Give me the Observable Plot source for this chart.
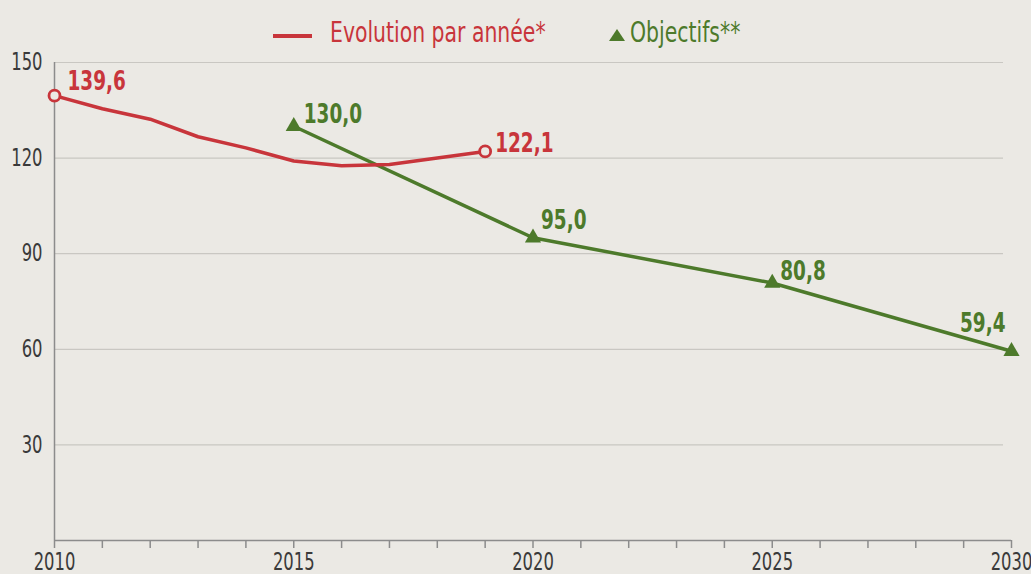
<!DOCTYPE html>
<html>
<head>
<meta charset="utf-8">
<script src="https://cdn.jsdelivr.net/npm/d3@7"></script>
<script src="https://cdn.jsdelivr.net/npm/@observablehq/plot@0.6"></script>
<style>
  html, body { margin: 0; padding: 0; background: #ebe9e4; width: 1031px; height: 574px; overflow: hidden; }
  body { font-family: "DejaVu Sans Condensed", "Liberation Sans Narrow", "Roboto", sans-serif; }
  #legend { position: relative; height: 50px; width: 1031px; }
  #legend .item { position: absolute; top: 13px; font-size: 28px; line-height: 40px; height: 40px; white-space: nowrap; }
  #legend .txt { display: inline-block; transform: scaleX(0.81); transform-origin: 0 50%; vertical-align: top; }
  #legend .sym { position: absolute; }
  #chart svg { display: block; }
</style>
</head>
<body>
<div id="legend"></div>
<div id="chart"></div>
<script>
// ---- data ----
const years = [2010, 2011, 2012, 2013, 2014, 2015, 2016, 2017, 2018, 2019];
const evolution = [139.6, 135.5, 132.2, 126.7, 123.2, 119.1, 117.6, 118.0, 120.0, 122.1];
const objYears = [2015, 2020, 2025, 2030];
const objectifs = [130.0, 95.0, 80.8, 59.4];
const yTicks = [30, 60, 90, 120, 150];
const xTickLabels = [2010, 2015, 2020, 2025, 2030];
const seriesNames = ["Evolution par année*", "Objectifs**"];

const RED = "#c8353b";
const GREEN = "#4d7a2b";
const BG = "#ebe9e4";
const FONT = '"DejaVu Sans Condensed", "Liberation Sans Narrow", sans-serif';

const evo = years.map((y, i) => ({year: y, value: evolution[i]}));
const obj = objYears.map((y, i) => ({year: y, value: objectifs[i]}));
const fmt = v => d3.format(".1f")(v).replace(".", ",");

const evoEnds = [evo[0], evo[evo.length - 1]];

const labelStyle = {fontSize: 27, fontWeight: "bold", textAnchor: "start", text: d => fmt(d.value), x: "year", y: "value"};

const plot = Plot.plot({
  width: 1031,
  height: 524,
  marginLeft: 54,
  marginRight: 20,
  marginTop: 12,
  marginBottom: 34,
  style: {background: BG, fontFamily: FONT, overflow: "visible"},
  x: {domain: [2010, 2030]},
  y: {domain: [0, 150]},
  marks: [
    Plot.ruleY(yTicks, {stroke: "#c9c7c2", strokeWidth: 1.2, insetRight: 8}),
    Plot.ruleX([2010], {y1: 0, y2: 150, stroke: "#8c8c8c", strokeWidth: 1.5}),
    Plot.ruleY([0], {stroke: "#8c8c8c", strokeWidth: 1.5}),
    Plot.axisX({
      ticks: d3.range(2010, 2031),
      tickSize: 8,
      tickPadding: 4,
      stroke: "#8c8c8c",
      strokeWidth: 1.5,
      fontSize: 24,
      fill: "#3a3a3a",
      tickFormat: d => xTickLabels.includes(d) ? String(d) : "",
      label: null
    }),
    Plot.axisY({
      ticks: yTicks,
      tickSize: 0,
      tickPadding: 12,
      fontSize: 24,
      fill: "#3a3a3a",
      label: null
    }),
    Plot.line(obj, {x: "year", y: "value", stroke: GREEN, strokeWidth: 3.5}),
    Plot.dot(obj, {x: "year", y: "value", symbol: "triangle", r: 6, fill: GREEN, stroke: null}),
    Plot.line(evo, {x: "year", y: "value", stroke: RED, strokeWidth: 3.5, curve: "linear"}),
    Plot.dot(evoEnds, {x: "year", y: "value", r: 5.5, fill: BG, stroke: RED, strokeWidth: 2.8}),
    // value labels
    Plot.text([evo[0]], {...labelStyle, fill: RED, dx: 13, dy: -14}),
    Plot.text([evo[evo.length - 1]], {...labelStyle, fill: RED, dx: 10, dy: -8}),
    Plot.text([obj[0]], {...labelStyle, fill: GREEN, dx: 10, dy: -12}),
    Plot.text([obj[1]], {...labelStyle, fill: GREEN, dx: 8, dy: -17}),
    Plot.text([obj[2]], {...labelStyle, fill: GREEN, dx: 8, dy: -12}),
    Plot.text([obj[3]], {...labelStyle, fill: GREEN, textAnchor: "end", dx: -6, dy: -28})
  ]
});
// condense SVG texts horizontally about their anchor to mimic a condensed typeface
plot.querySelectorAll("text").forEach(t => {
  const x = +t.getAttribute("x") || 0, y = +t.getAttribute("y") || 0;
  const tr = t.getAttribute("transform") || "";
  t.setAttribute("transform", `${tr} translate(${x},${y}) scale(0.76,1) translate(${-x},${-y})`);
});
document.getElementById("chart").appendChild(plot);

// legend
const legend = document.getElementById("legend");
const it1 = document.createElement("div");
it1.className = "item";
it1.style.left = "330px";
it1.style.color = RED;
it1.innerHTML = `<span class="sym" style="left:-57px;top:21px;width:39px;height:3.5px;background:${RED}"></span><span class="txt">${seriesNames[0]}</span>`;
legend.appendChild(it1);
const it2 = document.createElement("div");
it2.className = "item";
it2.style.left = "630px";
it2.style.color = GREEN;
it2.innerHTML = `<svg class="sym" width="18" height="14" style="left:-22px;top:15px"><polygon points="9,1 17,13 1,13" fill="${GREEN}"/></svg><span class="txt">${seriesNames[1]}</span>`;
legend.appendChild(it2);
</script>
</body>
</html>
